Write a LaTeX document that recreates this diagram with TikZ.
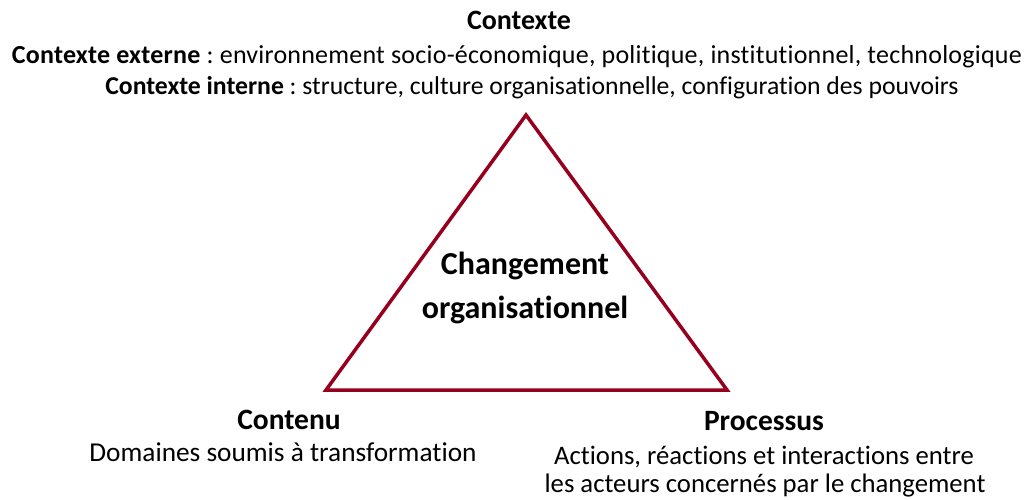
\documentclass[tikz,border=0pt]{standalone}
\usepackage{fontspec}
\setmainfont{Carlito}[Ligatures=NoCommon]
\frenchspacing
\definecolor{tri}{RGB}{150,0,30}
\begin{document}
\begin{tikzpicture}[x=1pt,y=-1pt,
  txt/.style={font=\fontsize{26}{31}\selectfont, inner sep=0pt, anchor=center},
  low/.style={font=\fontsize{26.7}{32}\selectfont, inner sep=0pt, anchor=center},
  head/.style={font=\fontsize{29.5}{35}\selectfont\bfseries, inner sep=0pt, anchor=center},
  big/.style={font=\fontsize{32}{38}\selectfont\bfseries, inner sep=0pt, anchor=center},
  edge/.style={draw=tri, line width=3.5pt, line join=miter}]
\useasboundingbox (0,0) rectangle (1035,499);
\coordinate (top) at (526,115);
\coordinate (bl) at (326,390);
\coordinate (br) at (727,390);
\draw[edge] (top) -- (bl) -- (br) -- cycle;
\node[txt, font=\fontsize{28}{33}\selectfont\bfseries] (ctx) at (519,20) {Contexte};
\node[txt] (ext) at (517,57) {\addfontfeatures{LetterSpace=0.9}\textbf{Contexte externe} : environnement socio-économique, politique, institutionnel, technologique};
\node[txt, font=\fontsize{25.7}{31}\selectfont] (int) at (532,88) {\textbf{Contexte interne} : structure, culture organisationnelle, configuration des pouvoirs};
\node[big] (ch1) at (525,266) {Changement};
\node[big] (ch2) at (525,310) {organisationnel};
\node[head] (cont) at (289,420) {Contenu};
\node[low, font=\fontsize{27.3}{32}\selectfont] (dom) at (283,452) {Domaines soumis à transformation};
\node[head] (proc) at (764,421) {Processus};
\node[low] (act) at (764,457) {Actions, réactions et interactions entre};
\node[low] (les) at (765,486) {les acteurs concernés par le changement};
\end{tikzpicture}
\end{document}
